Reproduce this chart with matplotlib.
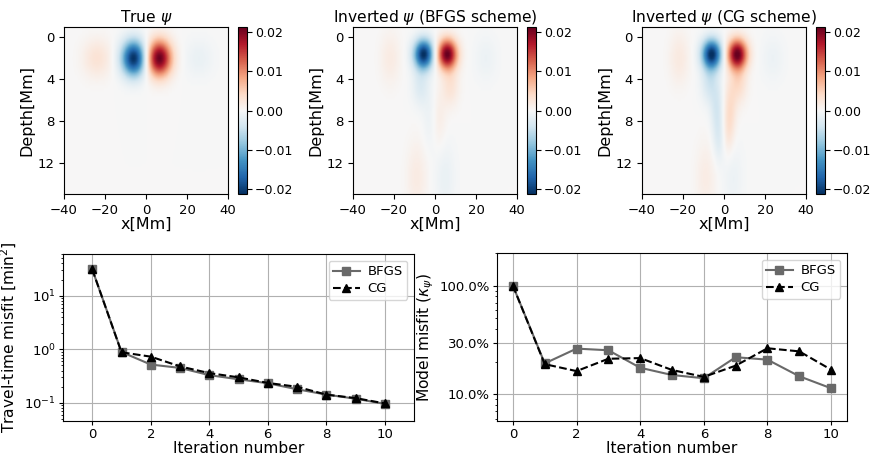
import numpy as np
import matplotlib
matplotlib.use('Agg')
import matplotlib.pyplot as plt
from matplotlib.ticker import FixedLocator, PercentFormatter, NullFormatter

# ---- convergence data ----
iters = [0, 1, 2, 3, 4, 5, 6, 7, 8, 9, 10]
tt_bfgs = [31.0, 0.89, 0.52, 0.45, 0.33, 0.276, 0.233, 0.18, 0.143, 0.12, 0.096]
tt_cg = [31.0, 0.88, 0.73, 0.48, 0.36, 0.30, 0.236, 0.20, 0.143, 0.123, 0.098]
mm_bfgs = [1.0, 0.193, 0.264, 0.255, 0.176, 0.151, 0.141, 0.22, 0.209, 0.147, 0.114]
mm_cg = [1.0, 0.19, 0.164, 0.213, 0.216, 0.168, 0.145, 0.184, 0.266, 0.249, 0.169]

# ---- psi fields, described as gaussian blobs: x0, z0, sx, sz, amplitude ----
true_x = [-24, -6.0, 6.5, 26]
true_z = [2.0, 2.0, 2.0, 2.0]
true_sx = [5.0, 4.2, 4.2, 5.0]
true_sz = [1.3, 1.2, 1.2, 1.3]
true_amp = [0.003, -0.0213, 0.0213, -0.0015]

bfgs_x = [-22, -5.5, 6.0, 25, -7.0, 7.5, -2.5, 2.0, -9, 5]
bfgs_z = [2.0, 1.6, 1.6, 2.0, 4.6, 4.6, 8.0, 8.0, 13.5, 13.5]
bfgs_sx = [3.5, 3.4, 3.4, 4.0, 3.0, 3.0, 2.5, 2.5, 3.5, 3.5]
bfgs_sz = [1.8, 1.0, 1.0, 1.6, 1.4, 1.4, 2.0, 2.0, 2.5, 2.5]
bfgs_amp = [0.0018, -0.0213, 0.0213, -0.0012, -0.003, 0.003,
            -0.0012, 0.0015, 0.0018, -0.0015]

cg_x = [-22, -6.0, 6.5, 24, -7.0, 7.0, -3.5, 3.0, -2.5, 2.0, -9, 4.5]
cg_z = [2.0, 1.6, 1.6, 2.0, 4.3, 4.3, 7.0, 7.0, 10.0, 9.5, 13.5, 13.5]
cg_sx = [3.5, 3.4, 3.4, 4.0, 3.0, 3.0, 2.2, 2.2, 2.0, 2.0, 3.5, 3.5]
cg_sz = [1.8, 1.0, 1.0, 1.6, 1.4, 1.4, 1.8, 1.8, 1.5, 1.5, 2.5, 2.5]
cg_amp = [0.002, -0.0213, 0.0213, -0.0012, -0.004, 0.004,
          -0.0035, 0.0035, -0.0022, 0.0018, 0.0016, -0.0012]

titles = ['True $\\psi$', 'Inverted $\\psi$ (BFGS scheme)',
          'Inverted $\\psi$ (CG scheme)']
vlim = 0.0213

xg = np.linspace(-40, 40, 161)
zg = np.linspace(-1, 15, 65)
X, Z = np.meshgrid(xg, zg)


def field(x0, z0, sx, sz, amp):
    f = np.zeros_like(X)
    for a, b, c, d, e in zip(x0, z0, sx, sz, amp):
        f += e * np.exp(-((X - a) / c) ** 2 / 2 - ((Z - b) / d) ** 2 / 2)
    return f


fields = [field(true_x, true_z, true_sx, true_sz, true_amp),
          field(bfgs_x, bfgs_z, bfgs_sx, bfgs_sz, bfgs_amp),
          field(cg_x, cg_z, cg_sx, cg_sz, cg_amp)]

W, H = 872, 465
fig = plt.figure(figsize=(8.72, 4.65), dpi=100)


def px(l, t, r, b):
    return [l / W, 1 - b / H, (r - l) / W, (b - t) / H]


img_left = [64, 353, 642]
cb_left = [238, 527, 816]
for i in range(3):
    ax = fig.add_axes(px(img_left[i], 27, img_left[i] + 164, 194))
    im = ax.imshow(fields[i], extent=[-40, 40, 15, -1], cmap='RdBu_r',
                   vmin=-vlim, vmax=vlim, aspect='auto',
                   interpolation='bilinear')
    ax.set_xticks([-40, -20, 0, 20, 40])
    ax.set_yticks([0, 4, 8, 12])
    ax.set_xlabel('x[Mm]', fontsize=11.5, labelpad=0)
    ax.set_ylabel('Depth[Mm]', fontsize=11.5, labelpad=2)
    ax.set_title(titles[i], fontsize=11.2, pad=3)
    ax.tick_params(labelsize=9.5)
    cax = fig.add_axes(px(cb_left[i], 27, cb_left[i] + 9, 194))
    cb = fig.colorbar(im, cax=cax, ticks=[-0.02, -0.01, 0, 0.01, 0.02])
    cb.ax.set_yticklabels(['\u22120.02', '\u22120.01', '0.00', '0.01', '0.02'])
    cb.ax.tick_params(labelsize=9, pad=2)

leg_kw = dict(loc='upper right', fontsize=9.5, borderpad=0.35,
              labelspacing=0.3, handlelength=2.0, handletextpad=0.6)

# travel-time misfit
ax1 = fig.add_axes(px(63, 254, 414, 421))
ax1.semilogy(iters, tt_bfgs, 's-', color='dimgray', ms=6, label='BFGS')
ax1.semilogy(iters, tt_cg, '^--', color='black', ms=6, label='CG')
ax1.set_xlim(-1, 11)
ax1.set_ylim(0.046, 60)
ax1.set_xticks([0, 2, 4, 6, 8, 10])
ax1.grid(True, which='major')
ax1.set_xlabel('Iteration number', fontsize=11.2, labelpad=0)
ax1.set_ylabel('Travel-time misfit [min$^2$]', fontsize=11.2, labelpad=4)
ax1.tick_params(labelsize=9.5, length=3, pad=2)
ax1.tick_params(which='minor', length=1.5)
ax1.legend(**leg_kw)

# model misfit
ax2 = fig.add_axes(px(497, 253, 847, 421))
ax2.semilogy(iters, mm_bfgs, 's-', color='dimgray', ms=6, label='BFGS')
ax2.semilogy(iters, mm_cg, '^--', color='black', ms=6, label='CG')
ax2.set_xlim(-0.5, 10.5)
ax2.set_ylim(0.057, 2.0)
ax2.set_xticks([0, 2, 4, 6, 8, 10])
ax2.yaxis.set_major_locator(FixedLocator([0.1, 0.3, 1.0]))
ax2.yaxis.set_major_formatter(PercentFormatter(xmax=1, decimals=1))
ax2.yaxis.set_minor_formatter(NullFormatter())
ax2.grid(True, which='major')
ax2.set_xlabel('Iteration number', fontsize=11.2, labelpad=0)
ax2.set_ylabel('Model misfit ($\\kappa_\\psi$)', fontsize=11.2, labelpad=3)
ax2.tick_params(labelsize=9.5, length=3, pad=2)
ax2.tick_params(which='minor', length=1.5)
ax2.legend(**leg_kw)

fig.savefig('out.png', dpi=100)
